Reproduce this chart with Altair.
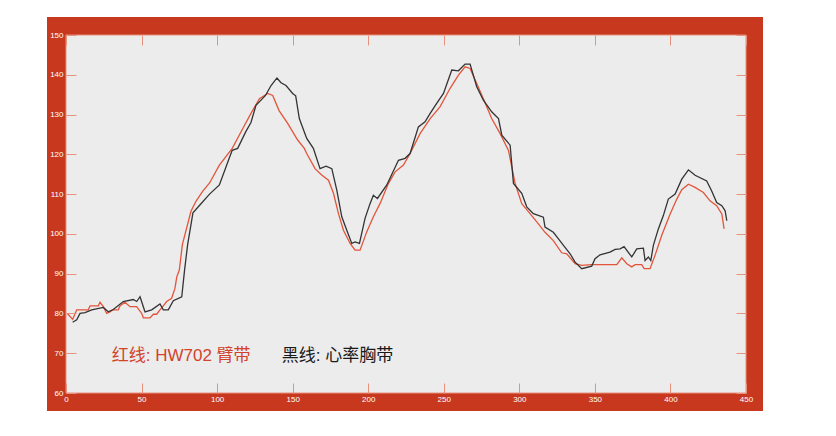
import altair as alt
import pandas as pd

# ---- data ----
black_x = [4.4, 7.1, 9.3, 12.6, 17, 24.7, 28, 31.3, 37.9, 44.5, 46.8, 49, 52.3, 56.7, 62.2, 64.4, 67.7, 71, 76.6,
           78.5, 80.5, 84, 88, 95, 101.5, 108, 110, 113.6, 119, 122.4, 125.7, 130, 132, 135.7, 139.6, 142.3, 145.6,
           150, 152, 154.4, 159.3, 163.7, 168.1, 172.1, 175.9, 179.2, 182.5, 185.8, 189.1, 191.3, 194.2, 197.9,
           201.2, 203.4, 206.1, 212.3, 220, 224.4, 227.7, 233.2, 237.6, 241, 245.3, 249.8, 255.3, 259.7, 264.1,
           267.4, 271.8, 276.2, 281.7, 286.2, 288.4, 293.9, 296.1, 301.6, 304.9, 309.3, 315.9, 317, 322.5, 325.9,
           329.2, 333.6, 336.9, 341.3, 347.9, 350.1, 353.4, 360, 363.4, 366.7, 369.3, 374.4, 377.7, 382.1, 383.2,
           385.4, 387, 388.7, 392, 395.3, 398.6, 403.1, 407.5, 411.9, 416.3, 424, 427.3, 430.6, 434, 436.2, 437.3]
black_y = [77.8, 78.4, 80, 80.2, 80.9, 81.5, 80.4, 81, 83, 83.5, 83, 84.2, 80.4, 80.9, 82.4, 80.9, 80.9, 83.2, 84.2,
           91, 97.3, 105.3, 107, 110, 112.3, 119, 121, 121.5, 125.7, 128, 132.3, 134, 134.8, 137.3, 139.2, 138, 137.3,
           135.3, 134.7, 129, 124, 121.5, 116.4, 117, 116.4, 111, 104.3, 100.9, 97.6, 98, 97.6, 103.9,
           107.6, 109.7, 108.9, 112.3, 118.5, 119, 120.2, 126.9, 128.2, 130.3, 132.8, 135.3, 141.2, 141, 142.7,
           142.7, 137, 133.6, 130.7, 129, 124.8, 122.3, 112.7, 110.2, 106.8, 105.1, 104.2, 101.7, 100.4, 98.75,
           97.1, 95, 92.9, 91.25, 91.9, 93.75, 94.75, 95.4, 96.1, 96.25, 96.8, 94.2, 96.25, 96.4, 93.3,
           94.2, 93.3, 97.1, 101.25, 104.6, 108.75, 110, 113.75, 116.1, 114.75, 113.3, 110.8, 107.9, 107.1, 105.8, 103.3]

red_x = [0.9, 4.4, 7.1, 14.8, 15.9, 21.4, 22.5, 24.7, 26.9, 29.1, 30.9, 34.6, 35.7, 39, 42.4, 46.8, 50.1, 51.2,
         55.6, 57.8, 60, 62.2, 64.4, 66.6, 69.9, 72.1, 73.3, 75, 77, 82.7, 86, 90.4, 95, 101.5, 110, 117, 122.4,
         128, 133.5, 136.8, 141, 146.7, 153.3, 157.7, 159.3, 164.8, 169.2, 173.7, 177, 180.3, 183.6, 188, 191.3,
         194.6, 199, 203.4, 207.8, 213.4, 217.8, 223.3, 227.7, 234.3, 241, 247.6, 254.2, 259.7, 264.1, 267.4,
         271.8, 276.2, 281.7, 287.3, 292.8, 297.2, 301.6, 307.1, 312.6, 317, 322.5, 328, 331.4, 336.9, 341.3,
         347.9, 364.5, 367.8, 371.1, 374.4, 376.6, 381, 382.6, 386.5, 389.8, 394.2, 399.8, 404.2, 407.5, 411.9,
         416.3, 421.8, 426.2, 430.6, 434, 435.5]
red_y = [80, 78.5, 80.9, 80.9, 81.9, 81.9, 82.8, 81.7, 80, 80.4, 80.9, 80.9, 81.9, 82.8, 81.7, 81.7, 80, 78.9,
         78.9, 79.8, 79.8, 80.9, 81.9, 83, 83.8, 86.3, 89.2, 90.9, 97.3, 105.7, 108.2, 110.7, 112.8, 117.3, 121.5,
         126.5, 130.3, 134, 135.3, 134.8, 131, 127.8, 123.6, 121.5, 120.2, 116.4, 114.8, 113.5, 110.2, 105.1,
         100.9, 97.6, 95.9, 95.9, 100.5, 104.3, 107.6, 112.7, 115.6, 117.3, 120.2, 125.2, 129, 132, 136.6, 139.9,
         142, 141.6, 137.8, 134, 129, 125.2, 121, 112.7, 107.6, 105.1, 102.5, 100.4, 98.3, 95.25, 95, 92.5, 92.1,
         92.25, 92.25, 94, 92.5, 91.7, 92.25, 92.25, 91.25, 91.25, 94.6, 99.6, 105, 108.75, 111.1, 112.5,
         111.7, 110.4, 108.3, 107.1, 105, 101.25]

x_ticks = [0, 50, 100, 150, 200, 250, 300, 350, 400, 450]
y_ticks = [60, 70, 80, 90, 100, 110, 120, 130, 140, 150]
legend_red = "红线: HW702 臂带"
legend_black = "黑线: 心率胸带"

# ---- style ----
W, H = 680, 358
FRAME = "#c8381f"
PLOT_BG = "#ececec"
TICK = "#e8917e"
RED_LINE = "#e2553b"
BLACK_LINE = "#333333"
TEXT_FONT = "Liberation Sans, Noto Sans CJK SC"

xscale = alt.Scale(domain=[0, 450], nice=False)
yscale = alt.Scale(domain=[60, 150], nice=False)

xaxis = alt.Axis(values=x_ticks, title=None, ticks=False, domain=False, labelColor="white",
                 labelFontSize=8, labelFont="Liberation Sans", labelPadding=2, labelFlush=False,
                 grid=True, gridColor=TICK, gridWidth=1, gridDash=[10, 338], zindex=1)
yaxis = alt.Axis(values=y_ticks, title=None, ticks=False, domain=False, labelColor="white",
                 labelFontSize=8, labelFont="Liberation Sans", labelPadding=3, labelFlush=False,
                 grid=True, gridColor=TICK, gridWidth=1, gridDash=[10, 660], zindex=1)

one = pd.DataFrame({"k": [0]})

frame = alt.Chart(one).mark_rect(fill=FRAME).encode(
    x=alt.value(-19), x2=alt.value(697), y=alt.value(-18), y2=alt.value(376))
panel = alt.Chart(one).mark_rect(fill=PLOT_BG, stroke=TICK, strokeWidth=1).encode(
    x=alt.value(0), x2=alt.value(W), y=alt.value(0), y2=alt.value(H))

df_red = pd.DataFrame({"t": red_x, "hr": red_y})
df_black = pd.DataFrame({"t": black_x, "hr": black_y})

red_line = alt.Chart(df_red).mark_line(color=RED_LINE, strokeWidth=1.3).encode(
    x=alt.X("t:Q", scale=xscale, axis=xaxis),
    y=alt.Y("hr:Q", scale=yscale, axis=yaxis),
    order="t:Q")
black_line = alt.Chart(df_black).mark_line(color=BLACK_LINE, strokeWidth=1.3).encode(
    x=alt.X("t:Q", scale=xscale, axis=xaxis),
    y=alt.Y("hr:Q", scale=yscale, axis=yaxis),
    order="t:Q")

txt_red = alt.Chart(one).mark_text(text=legend_red, color="#d2432a", fontSize=17,
                                   font=TEXT_FONT, align="left", baseline="middle").encode(
    x=alt.value(45.7), y=alt.value(320.5))
txt_black = alt.Chart(one).mark_text(text=legend_black, color="#1a1a1a", fontSize=17,
                                     font=TEXT_FONT, align="left", baseline="middle").encode(
    x=alt.value(215.7), y=alt.value(320.5))

chart = alt.layer(frame, panel, red_line, black_line, txt_red, txt_black).properties(
    width=W, height=H,
    autosize=alt.AutoSizeParams(type="none"),
    padding={"left": 58, "top": 27, "right": 30, "bottom": 30},
    background="white",
).configure_view(stroke=None)

chart.save("out.html", embed_options={"renderer": "svg", "actions": False})
